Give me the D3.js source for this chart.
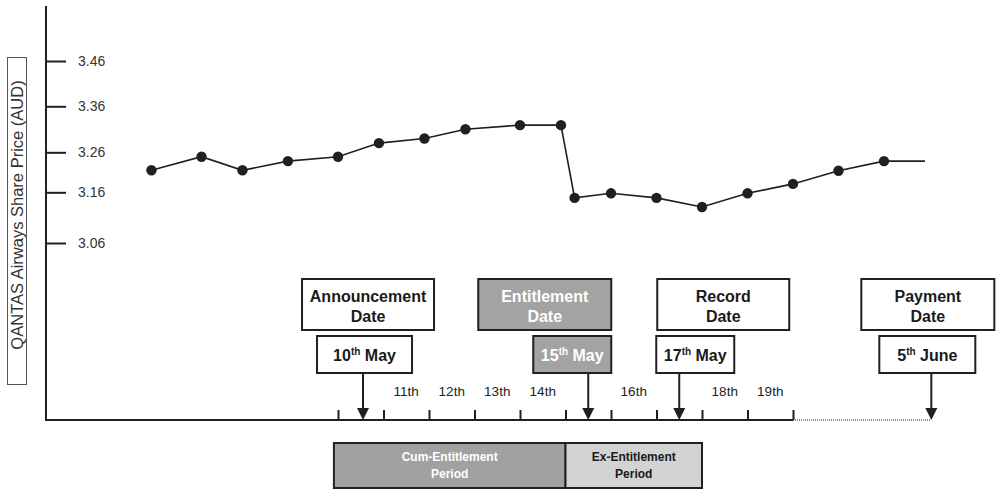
<!DOCTYPE html>
<html>
<head>
<meta charset="utf-8">
<script src="https://cdn.jsdelivr.net/npm/d3@7"></script>
<style>
  body { margin: 0; background: #fff; }
  svg  { font-family: 'Liberation Sans', Arial, sans-serif; }
</style>
</head>
<body>
<div id="main_graph"></div>
<script>
'use strict';

// price series, day of month (fractional where the dot sits off a tick) and AUD
const priceDays = [5.9, 7, 7.9, 8.9, 10, 10.9, 11.9, 12.8, 14, 14.9, 15.2, 16, 17, 18, 19, 20, 21, 22]
const prices    = [3.215, 3.249, 3.215, 3.238, 3.249, 3.280, 3.290, 3.310, 3.319, 3.319,
                   3.149, 3.158, 3.149, 3.131, 3.158, 3.181, 3.214, 3.238]
const lineEnd   = {day: 22.9, price: 3.238}

const yTicks     = [3.06, 3.16, 3.26, 3.36, 3.46]
const dayTicks   = [10, 11, 12, 13, 14, 15, 16, 17, 18, 19, 20]
const dayLabels  = ['11th', '12th', '13th', '14th', '16th', '18th', '19th']
const labelDays  = [11, 12, 13, 14, 16, 18, 19]

const eventNames = [['Announcement', 'Date'], ['Entitlement', 'Date'], ['Record', 'Date'], ['Payment', 'Date']]
const eventDates = [['10', 'th', ' May'], ['15', 'th', ' May'], ['17', 'th', ' May'], ['5', 'th', ' June']]
const eventDays  = [10.55, 15.5, 17.5, 23.04]
const dottedTo   = 23.03

const periodNames = [['Cum-Entitlement', 'Period'], ['Ex-Entitlement', 'Period']]
const periodFrom  = [9.91, 15]
const periodTo    = [15, 18]

class Chart {
  constructor() {
    this.ink  = '#231f20'
    this.svg  = d3.select('#main_graph').append('svg')
      .attr('width', 997)
      .attr('height', 491)

    this.x = d3.scaleLinear().domain([10, 20]).range([338, 793])
    // the printed ticks are not evenly spaced, so follow each one
    this.y = d3.scaleLinear().domain(yTicks).range([243, 192.3, 152.3, 106.3, 61])

    this.drawYAxis()
    this.drawXAxis()
    this.drawLine()
    this.drawEvents()
    this.drawPeriods()
  }

  drawYAxis() {
    const svg = this.svg

    svg.append('line')
      .attr('x1', 46).attr('x2', 46)
      .attr('y1', 6).attr('y2', 421)
      .attr('stroke', this.ink)
      .attr('stroke-width', 2)

    const axis = svg.append('g')
      .attr('transform', 'translate(46,0)')
      .call(d3.axisRight(this.y).tickValues(yTicks).tickFormat(d3.format('.2f')).tickSize(20).tickPadding(12))
    axis.select('.domain').remove()
    axis.selectAll('.tick line').attr('stroke', this.ink).attr('stroke-width', 2)
    axis.selectAll('.tick text')
      .attr('font-size', 14)
      .attr('font-family', 'Liberation Sans, Arial, sans-serif')
      .attr('fill', '#333')

    svg.append('rect')
      .attr('x', 7.5).attr('y', 57.5)
      .attr('width', 19).attr('height', 327)
      .attr('fill', '#fff')
      .attr('stroke', '#555')
      .attr('stroke-width', 1)

    svg.append('text')
      .attr('transform', 'translate(22.5,215) rotate(-90)')
      .attr('text-anchor', 'middle')
      .attr('font-size', 16.5)
      .attr('fill', '#333')
      .text('QANTAS Airways Share Price (AUD)')
  }

  drawXAxis() {
    const svg = this.svg
    const x   = this.x

    svg.append('line')
      .attr('x1', 45).attr('x2', x(20))
      .attr('y1', 420).attr('y2', 420)
      .attr('stroke', this.ink)
      .attr('stroke-width', 2)

    svg.append('line')
      .attr('x1', x(20)).attr('x2', x(dottedTo))
      .attr('y1', 420).attr('y2', 420)
      .attr('stroke', this.ink)
      .attr('stroke-width', 1)
      .attr('stroke-dasharray', '1,1')

    const axis = svg.append('g')
      .attr('transform', 'translate(0,420)')
      .call(d3.axisTop(x).tickValues(dayTicks).tickFormat('').tickSize(10))
    axis.select('.domain').remove()
    axis.selectAll('.tick line').attr('stroke', this.ink).attr('stroke-width', 2)

    svg.selectAll('text.day')
      .data(labelDays)
      .enter()
      .append('text')
        .attr('class', 'day')
        .attr('x', (d) => x(d + 0.5))
        .attr('y', 396)
        .attr('text-anchor', 'middle')
        .attr('font-size', 13.5)
        .attr('fill', '#222')
        .text((d, i) => dayLabels[i])
  }

  drawLine() {
    const x = this.x
    const y = this.y
    const points = priceDays.map((d, i) => ({day: d, price: prices[i]}))

    this.svg.append('path')
      .datum(points.concat([lineEnd]))
      .attr('fill', 'none')
      .attr('stroke', this.ink)
      .attr('stroke-width', 1.6)
      .attr('d', d3.line().x((p) => x(p.day)).y((p) => y(p.price)))

    this.svg.selectAll('circle.price')
      .data(points)
      .enter()
      .append('circle')
        .attr('class', 'price')
        .attr('cx', (p) => x(p.day))
        .attr('cy', (p) => y(p.price))
        .attr('r', 5.2)
        .attr('fill', this.ink)
  }

  drawEvents() {
    const x    = this.x
    const gray = [false, true, false, false]
    // offsets of each box from its arrow, [left, width]
    const topBox  = [[-61, 132], [-110, 133], [-22, 132], [-70, 133]]
    const dateBox = [[-46, 95],  [-55, 78],   [-23, 78],  [-52, 96]]

    eventDays.forEach((day, i) => {
      const ax   = x(day)
      const fill = gray[i] ? '#a3a3a3' : '#fff'
      const text = gray[i] ? '#fff' : '#1a1a1a'
      const g    = this.svg.append('g')

      g.append('rect')
        .attr('x', ax + topBox[i][0]).attr('y', 279)
        .attr('width', topBox[i][1]).attr('height', 51)
        .attr('fill', fill)
        .attr('stroke', this.ink)
        .attr('stroke-width', 2)

      eventNames[i].forEach((line, li) => {
        g.append('text')
          .attr('x', ax + topBox[i][0] + topBox[i][1] / 2)
          .attr('y', 302 + li * 20)
          .attr('text-anchor', 'middle')
          .attr('font-size', 16)
          .attr('font-weight', 'bold')
          .attr('fill', text)
          .text(line)
      })

      g.append('rect')
        .attr('x', ax + dateBox[i][0]).attr('y', 336)
        .attr('width', dateBox[i][1]).attr('height', 37)
        .attr('fill', fill)
        .attr('stroke', this.ink)
        .attr('stroke-width', 2)

      const dt = g.append('text')
        .attr('x', ax + dateBox[i][0] + dateBox[i][1] / 2)
        .attr('y', 361)
        .attr('text-anchor', 'middle')
        .attr('font-size', 16)
        .attr('font-weight', 'bold')
        .attr('fill', text)
      dt.append('tspan').text(eventDates[i][0])
      dt.append('tspan').attr('font-size', 10).attr('dy', -6).text(eventDates[i][1])
      dt.append('tspan').attr('dy', 6).text(eventDates[i][2])

      g.append('line')
        .attr('x1', ax).attr('x2', ax)
        .attr('y1', 374).attr('y2', 410)
        .attr('stroke', this.ink)
        .attr('stroke-width', 2)

      g.append('path')
        .attr('d', `M${ax - 6},408 L${ax + 6},408 L${ax},420 Z`)
        .attr('fill', this.ink)
    })
  }

  drawPeriods() {
    const x     = this.x
    const fills = ['#a1a1a1', '#d3d3d3']
    const inks  = ['#fff', '#1a1a1a']

    periodNames.forEach((lines, i) => {
      const x0 = x(periodFrom[i])
      const x1 = x(periodTo[i])

      this.svg.append('rect')
        .attr('x', x0).attr('y', 443)
        .attr('width', x1 - x0).attr('height', 45)
        .attr('fill', fills[i])
        .attr('stroke', this.ink)
        .attr('stroke-width', 2)

      lines.forEach((line, li) => {
        this.svg.append('text')
          .attr('x', (x0 + x1) / 2)
          .attr('y', 461 + li * 17)
          .attr('text-anchor', 'middle')
          .attr('font-size', 12)
          .attr('font-weight', 'bold')
          .attr('fill', inks[i])
          .text(line)
      })
    })
  }
}

new Chart()
</script>
</body>
</html>
